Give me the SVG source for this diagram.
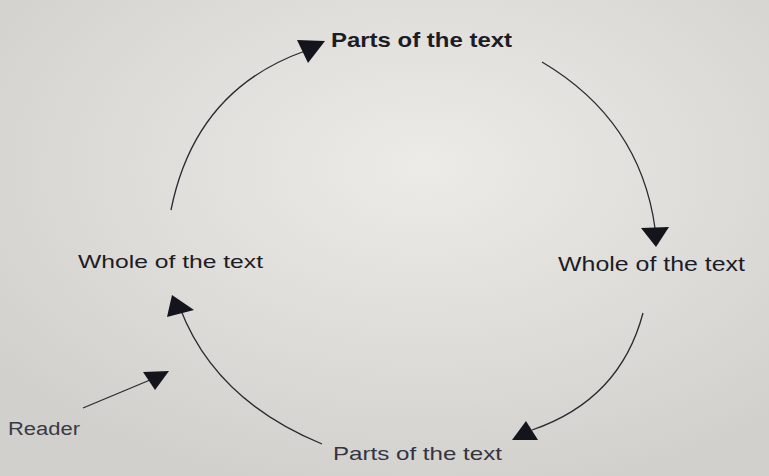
<svg xmlns="http://www.w3.org/2000/svg" width="769" height="476" viewBox="0 0 769 476">
  <defs>
    <radialGradient id="bg" cx="0.55" cy="0.35" r="0.7">
      <stop offset="0" stop-color="#ecebe8"/>
      <stop offset="0.6" stop-color="#dddbd7"/>
      <stop offset="1" stop-color="#d2d0cc"/>
    </radialGradient>
    <style>
      .lbl { font-family: "Liberation Sans", Arial, sans-serif; fill: #1c1c26; }
      .arc { fill: none; stroke: #2a2a30; stroke-width: 1.3; }
      .head { fill: #14141c; }
    </style>
  </defs>
  <rect x="0" y="0" width="769" height="476" fill="url(#bg)"/>

  <g id="connectors">
    <path class="arc" d="M171,210 Q195,90 305,51"/>
    <polygon class="head" points="297,40 325,41 308,63"/>
    <path class="arc" d="M542,62 Q640,120 655,228"/>
    <polygon class="head" points="641,228 669,227 656,247"/>
    <path class="arc" d="M643,313 Q620,400 532,430"/>
    <polygon class="head" points="512,440 538,440 526,421"/>
    <path class="arc" d="M322,444 Q215,400 180,308"/>
    <polygon class="head" points="172,295 194,310 167,317"/>
    <path class="arc" d="M83,408 L150,380"/>
    <polygon class="head" points="143,372 169,371 155,390"/>
  </g>

  <g id="node-parts-top">
    <text class="lbl" x="331" y="47" font-size="21" font-weight="bold" textLength="181" lengthAdjust="spacingAndGlyphs">Parts of the text</text>
  </g>
  <g id="node-whole-right">
    <text class="lbl" x="558" y="271" font-size="20" textLength="187" lengthAdjust="spacingAndGlyphs">Whole of the text</text>
  </g>
  <g id="node-parts-bottom">
    <text class="lbl" x="333" y="460" font-size="19" textLength="169" lengthAdjust="spacingAndGlyphs" style="fill:#34343f">Parts of the text</text>
  </g>
  <g id="node-whole-left">
    <text class="lbl" x="78" y="268" font-size="19" textLength="185" lengthAdjust="spacingAndGlyphs">Whole of the text</text>
  </g>
  <g id="node-reader">
    <text class="lbl" x="8" y="435" font-size="18" textLength="72" lengthAdjust="spacingAndGlyphs" style="fill:#3a3a44">Reader</text>
  </g>
</svg>
